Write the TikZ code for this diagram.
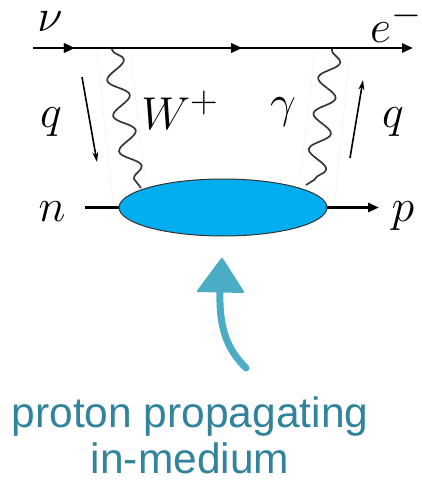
\documentclass[tikz,border=0pt]{standalone}
\usepackage{fontspec}
\setsansfont{Liberation Sans}
\usetikzlibrary{decorations.pathmorphing,decorations.markings,arrows.meta,shapes.geometric}
\definecolor{blob}{HTML}{00AEEF}
\definecolor{chalk}{HTML}{4BACC6}
\definecolor{teal}{HTML}{31849B}
\tikzset{
  fermion/.style={line width=2.6pt,-{Triangle[length=11pt,width=9pt]}},
  midarrow/.style={postaction={decorate},decoration={markings,mark=at position #1 with {\arrow{Triangle[length=11pt,width=9pt]}}}},
  boson/.style={line width=1.7pt,black!78,decorate,decoration={snake,segment length=36pt,amplitude=10pt,pre length=1pt,post length=1pt}},
  guide/.style={black!12,densely dotted,line width=0.6pt},
  mom/.style={line width=1.6pt,-{Stealth[length=10pt,width=6pt]}},
  lab/.style={font=\Huge,inner sep=0pt,scale=1.85,transform shape},
}
\begin{document}
\begin{tikzpicture}[x=1pt,y=-1pt]
\useasboundingbox (0,0) rectangle (421,481);
% coordinates
\coordinate (tl) at (33,48);
\coordinate (tr) at (413,48);
\coordinate (wt) at (112,49);
\coordinate (wb) at (135,186);
\coordinate (gt) at (332,49);
\coordinate (gb) at (314,186);
% faint guides
\draw[guide] (97,50) -- (113,203);
\draw[guide] (130,50) -- (145,180);
\draw[guide] (315,50) -- (300,180);
\draw[guide] (350,50) -- (335,200);
% top fermion line
\draw[fermion,midarrow=0.11,midarrow=0.55] (tl) -- (tr);
% bosons
\draw[boson] (wt) -- (wb) -- (141,188);
\draw[boson] (gt) -- (gb) -- (306,185);
% bottom line
\coordinate (nl) at (85,207.5);
\coordinate (pb) at (370,207.5);
\coordinate (pr) at (379,207.5);
\coordinate (ec) at (223,207.5);
\draw[line width=2.8pt] (nl) -- (pb);
\draw[fermion] (ec) -- (pr);
\node[ellipse,draw=black!80,line width=1pt,fill=blob,minimum width=208pt,minimum height=57pt,inner sep=0pt] (blobn) at (ec) {};
% momentum arrows
\coordinate (q1s) at (82,77);
\coordinate (q1e) at (97,162);
\coordinate (q2s) at (350,158);
\coordinate (q2e) at (363,80);
\draw[mom] (q1s) -- (q1e);
\draw[mom] (q2s) -- (q2e);
% labels
\node[lab] (nu) at (50,22) {$\nu$};
\node[lab] (el) at (396,23) {$e^-$};
\node[lab] (q1) at (51,122) {$q$};
\node[lab] (wp) at (180,110) {$W^+$};
\node[lab] (ga) at (283,112) {$\gamma$};
\node[lab] (q2) at (393,122) {$q$};
\node[lab] (n) at (52,212) {$n$};
\node[lab] (p) at (403,216) {$p$};
% chalk arrow
\coordinate (ctip) at (222,257);
\coordinate (cbase) at (220,292);
\coordinate (cend) at (246,368);
\fill[chalk,rounded corners=2pt] (ctip) -- (196,292) -- (245,293) -- cycle;
\draw[chalk,line width=7pt,line cap=round] (cbase) .. controls (219,330) and (228,350) .. (cend);
% text
\node[font=\sffamily\fontsize{42.5}{46}\selectfont,text=teal,align=center] (txt) at (190,435) {proton propagating\\in-medium};
\end{tikzpicture}
\end{document}
